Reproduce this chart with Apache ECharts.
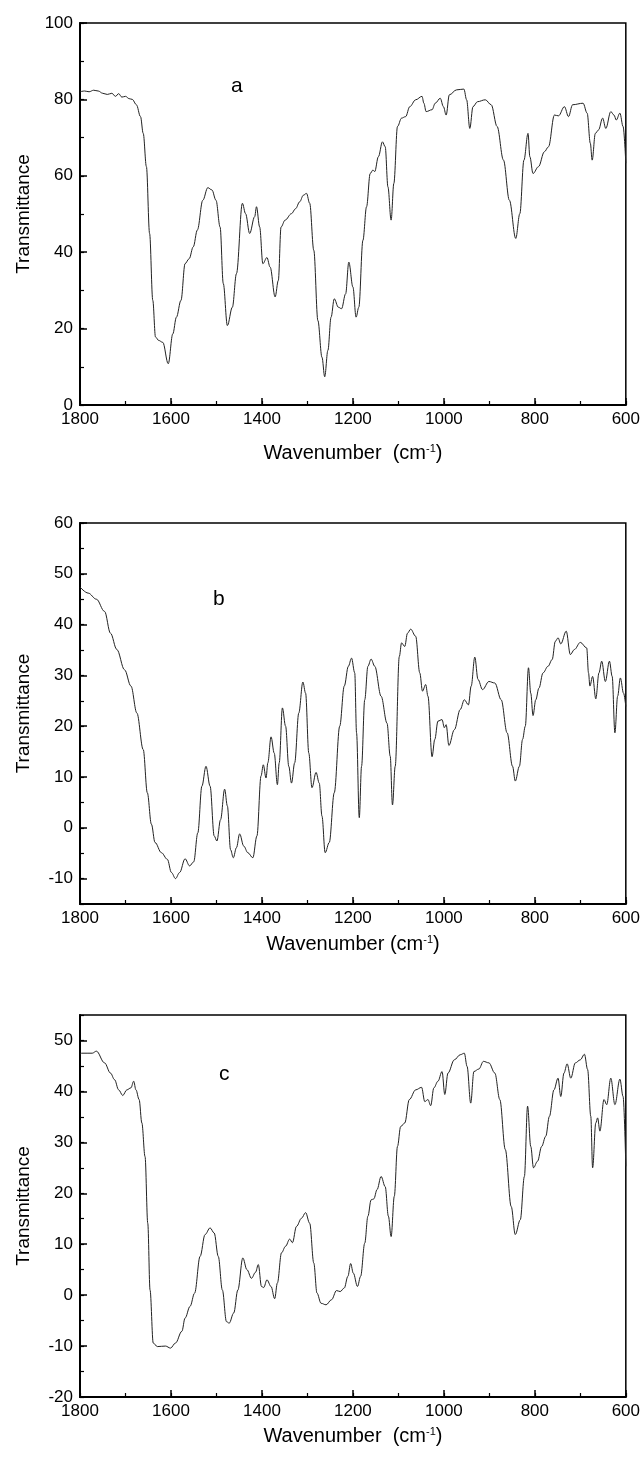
<!DOCTYPE html>
<html>
<head>
<meta charset="utf-8">
<script src="https://cdn.jsdelivr.net/npm/echarts@6/dist/echarts.min.js"></script>
<style>
  html,body{margin:0;padding:0;background:#fff;}
  #spectra{width:643px;height:1459px;}
</style>
</head>
<body>
<div id="spectra"></div>
<script>
// spectrum a
var wnA=[1800,1790,1780,1770,1760,1750,1740,1730,1722,1715,1708,1700,1692,1685,1676,1667,1661,1654,1647,1640,1634,1627,1618,1606,1596,1588,1578,1569,1560,1551,1542,1530,1519,1510,1501,1492,1485,1476,1465,1456,1443,1436,1427,1416,1412,1405,1398,1389,1382,1371,1364,1358,1349,1335,1326,1317,1309,1302,1295,1286,1277,1268,1262,1255,1248,1241,1232,1225,1216,1209,1200,1193,1187,1178,1170,1162,1156,1152,1144,1135,1129,1123,1116,1110,1102,1093,1084,1075,1062,1048,1044,1039,1026,1019,1008,1001,995,988,972,956,950,943,936,926,909,896,883,869,856,842,833,824,815,811,804,792,779,770,757,748,735,726,717,694,685,678,674,667,660,651,644,633,626,621,613,606,600];
var tA=[82.0,82.2,82.0,82.4,82.2,81.6,81.3,81.6,80.8,81.5,80.6,80.8,80.2,80.0,78.6,75.5,71.1,62.4,44.9,27.4,17.8,16.9,16.4,10.8,18.6,23.0,27.4,37.0,38.3,41.4,45.8,53.6,56.9,56.3,53.6,46.6,31.8,20.8,25.6,34.4,52.8,50.1,44.9,49.3,51.9,46.6,37.0,38.6,36.1,28.3,32.6,46.6,48.4,50.1,51.4,53.2,54.9,55.4,52.8,40.5,22.1,12.5,7.4,14.3,23.0,27.8,25.6,25.2,29.1,37.4,30.9,23.0,25.6,43.1,51.9,60.6,61.5,61.1,65.0,68.9,67.6,57.1,48.4,58.0,72.9,75.1,75.5,78.1,79.9,80.8,79.0,76.8,77.3,79.0,80.3,78.1,75.9,81.2,82.5,82.7,79.9,72.4,78.1,79.4,79.9,78.6,72.9,64.1,53.6,43.6,50.1,64.1,71.1,65.0,60.6,62.4,66.3,67.6,75.9,75.7,78.1,75.5,78.6,79.0,76.4,68.5,64.1,71.1,72.0,75.1,72.4,76.8,75.9,74.6,76.4,72.9,63.3];

// spectrum b
var wnB=[1800,1782,1764,1746,1733,1719,1702,1688,1675,1661,1652,1643,1635,1621,1608,1599,1590,1581,1569,1559,1550,1541,1532,1523,1514,1505,1499,1491,1482,1476,1469,1463,1456,1449,1440,1431,1420,1411,1402,1397,1391,1387,1380,1373,1366,1362,1355,1348,1341,1335,1328,1319,1310,1304,1297,1290,1281,1274,1268,1261,1252,1241,1229,1219,1210,1203,1196,1192,1186,1181,1174,1167,1160,1152,1138,1125,1118,1113,1107,1098,1093,1086,1080,1073,1062,1053,1047,1040,1035,1026,1020,1013,1004,999,995,989,977,964,955,946,940,932,925,915,901,888,874,861,849,843,834,827,821,814,809,804,798,791,782,771,762,755,749,743,731,722,713,700,686,682,679,673,666,659,653,645,636,630,624,618,612,605,600];
var tB=[47.4,46.2,45.0,42.6,38.3,35.1,31.1,27.9,22.6,15.4,6.9,0.7,-2.9,-4.9,-6.2,-8.8,-10.0,-8.8,-6.1,-7.5,-6.7,-1.0,8.2,12.1,8.2,-1.6,-2.6,1.6,7.6,4.3,-4.3,-5.9,-3.9,-1.2,-3.6,-4.9,-5.9,-1.6,10.2,12.4,9.8,12.8,17.9,14.7,8.5,12.8,23.6,20.0,12.1,8.8,12.8,22.6,28.7,26.5,14.7,7.9,10.9,8.8,2.3,-4.9,-2.9,6.9,20.0,27.9,31.8,33.4,30.5,18.7,2.0,12.1,25.2,31.8,33.2,31.8,25.9,20.6,14.1,4.5,12.1,33.7,36.4,35.7,38.3,39.1,37.7,30.5,26.9,28.2,25.9,14.0,17.4,21.0,21.3,19.7,20.3,16.2,19.3,23.3,25.2,24.2,27.9,33.6,29.2,27.2,28.8,28.5,25.2,18.7,12.1,9.2,12.1,17.4,20.0,31.5,26.5,22.1,25.2,27.5,30.5,31.8,33.1,36.7,37.4,36.2,38.7,34.1,35.1,36.5,35.4,30.5,27.9,29.8,25.4,30.5,32.8,28.8,32.8,29.8,18.7,25.9,29.5,26.5,23.9];

// spectrum c
var wnC=[1800,1796,1773,1764,1746,1733,1724,1715,1706,1697,1688,1682,1677,1670,1664,1657,1651,1646,1639,1630,1612,1601,1590,1576,1569,1558,1548,1536,1525,1514,1505,1496,1487,1478,1472,1462,1453,1442,1433,1423,1414,1408,1401,1396,1389,1380,1372,1366,1357,1348,1339,1333,1324,1313,1304,1295,1286,1279,1270,1259,1247,1236,1228,1219,1211,1205,1199,1190,1183,1174,1167,1160,1154,1147,1138,1129,1122,1116,1109,1102,1095,1086,1076,1062,1049,1042,1035,1029,1022,1013,1004,998,991,977,964,955,949,941,934,923,913,901,888,877,865,852,843,832,823,816,809,803,794,785,776,768,758,749,743,736,729,721,711,700,691,684,677,673,666,662,657,648,642,633,624,613,606,600];
var tC=[47.3,47.5,47.5,47.9,45.6,43.6,42.3,40.3,39.2,40.3,40.7,42.0,40.3,38.4,33.8,27.2,14.1,1.0,-9.4,-10.1,-10.0,-10.4,-9.4,-7.1,-4.5,-2.2,0.4,7.6,11.9,13.2,12.2,7.6,1.0,-5.2,-5.5,-3.5,1.0,7.3,5.0,3.3,4.5,6.0,1.7,1.5,3.0,1.7,-0.7,2.4,8.3,9.6,11.0,10.3,13.5,15.1,16.2,14.1,6.3,0.4,-1.6,-1.9,-0.9,0.9,0.7,1.4,3.7,6.2,4.3,1.7,3.7,10.2,15.5,18.7,18.9,20.7,23.3,21.3,15.5,11.5,19.4,29.2,33.1,33.8,38.4,40.3,40.8,38.0,38.4,37.2,40.7,42.0,43.9,39.4,43.6,46.2,47.2,47.5,44.9,37.7,43.9,44.4,45.9,45.6,43.6,38.4,28.6,17.4,11.9,14.8,23.3,37.1,29.2,25.0,26.3,29.2,31.2,35.1,40.3,42.6,39.0,43.6,45.4,42.6,45.6,46.2,47.3,44.3,35.1,25.0,33.8,34.8,32.2,38.4,37.4,42.6,37.4,42.4,39.0,25.3];

// axis ranges / tick labels
var xTicks=[600,800,1000,1200,1400,1600,1800];
var yTicksA=[0,20,40,60,80,100];
var yTicksB=[-10,0,10,20,30,40,50,60];
var yTicksC=[-20,-10,0,10,20,30,40,50];
var letters=['a','b','c'];

var chart=echarts.init(document.getElementById('spectra'));

var tickFont="'Liberation Sans Narrow','Liberation Sans',Arial,sans-serif";
var gridTops=[23,523,1015];
var gridHeights=[382,381,382];
var yRanges=[[0,100],[-15,60],[-20,55]];
var yMinor=[10,5,5];
var yMajors=[yTicksA,yTicksB,yTicksC];
var xNameGaps=[38,30,29];
var xNames=['{t|Wavenumber  (cm}{s|-1}{t|)}','{t|Wavenumber (cm}{s|-1}{t|)}','{t|Wavenumber  (cm}{s|-1}{t|)}'];

function pairs(wn,t){
  var out=[];
  for(var i=0;i<wn.length;i++){ out.push([wn[i],t[i]]); }
  return out;
}

var grids=[],xAxes=[],yAxes=[],series=[],graphics=[];
var allData=[pairs(wnA,tA),pairs(wnB,tB),pairs(wnC,tC)];
var letterPos=[[237,88],[219,601],[225,1076]];

for(var i=0;i<3;i++){
  grids.push({left:80,top:gridTops[i],width:550,height:gridHeights[i],show:true,borderColor:'#000',borderWidth:1.5,backgroundColor:'transparent'});
  xAxes.push({
    type:'value',gridIndex:i,inverse:true,min:600,max:1800,
    name:xNames[i],nameLocation:'middle',nameGap:xNameGaps[i],
    nameTextStyle:{rich:{
      t:{fontFamily:tickFont,fontSize:20,color:'#000'},
      s:{fontFamily:tickFont,fontSize:11,color:'#000',padding:[0,0,9,0]}
    }},
    axisLine:{show:true,onZero:false,lineStyle:{color:'#000',width:2}},
    axisTick:{show:true,inside:true,length:7,customValues:xTicks,lineStyle:{color:'#000',width:1.5}},
    axisLabel:{color:'#000',fontFamily:tickFont,fontSize:17,margin:6,customValues:xTicks,
      formatter:function(v){return String(v);}},
    splitLine:{show:false}
  });
  yAxes.push({
    type:'value',gridIndex:i,min:yRanges[i][0],max:yRanges[i][1],
    name:'Transmittance',nameLocation:'middle',nameGap:47,
    nameTextStyle:{fontFamily:tickFont,fontSize:19,color:'#000'},
    axisLine:{show:true,onZero:false,lineStyle:{color:'#000',width:2}},
    axisTick:{show:true,inside:true,length:7,customValues:yMajors[i],lineStyle:{color:'#000',width:1.5}},
    axisLabel:{color:'#000',fontFamily:tickFont,fontSize:17,margin:7,customValues:yMajors[i]},
    splitLine:{show:false}
  });
  series.push({
    type:'line',xAxisIndex:i,yAxisIndex:i,data:allData[i],
    showSymbol:false,smooth:0.35,smoothMonotone:'x',
    lineStyle:{color:'#222',width:1},silent:true,animation:false
  });
  graphics.push({type:'text',left:letterPos[i][0]-6,top:letterPos[i][1]-12,
    style:{text:letters[i],font:'21px '+tickFont,fill:'#000'}});
}
// minor ticks (x every 100, y every half step)
for(var j=0;j<3;j++){
  xAxes.push({
    type:'value',gridIndex:j,inverse:true,min:600,max:1800,interval:100,position:'bottom',
    axisLine:{show:false,onZero:false},
    axisTick:{show:true,inside:true,length:4,lineStyle:{color:'#000',width:1.2}},
    axisLabel:{show:false},splitLine:{show:false}
  });
  yAxes.push({
    type:'value',gridIndex:j,min:yRanges[j][0],max:yRanges[j][1],interval:yMinor[j],
    position:'left',
    axisLine:{show:false,onZero:false},
    axisTick:{show:true,inside:true,length:4,lineStyle:{color:'#000',width:1.2}},
    axisLabel:{show:false},splitLine:{show:false}
  });
}

chart.setOption({
  animation:false,
  backgroundColor:'#fff',
  grid:grids,
  xAxis:xAxes,
  yAxis:yAxes,
  series:series,
  graphic:graphics
});
</script>
</body>
</html>
